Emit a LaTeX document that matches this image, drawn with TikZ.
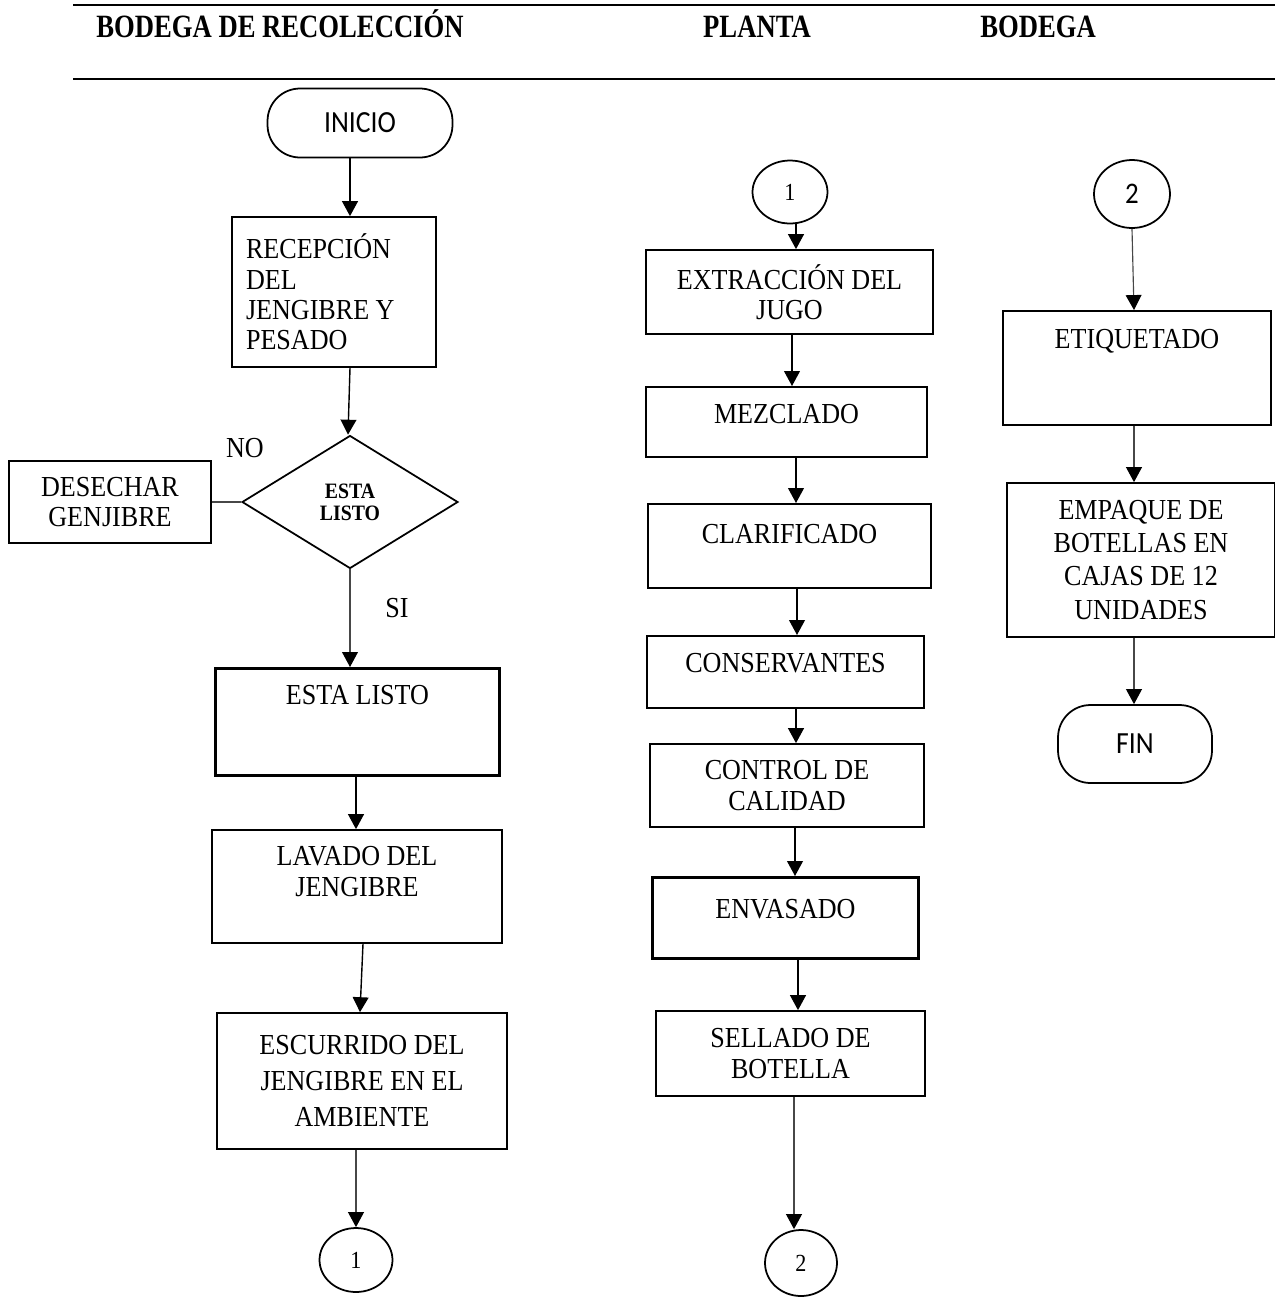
\documentclass[tikz,border=0pt]{standalone}
\usepackage{fontspec}
\setmainfont{Liberation Serif}[FakeStretch=0.9]
\newfontfamily\titulo{Liberation Serif}[FakeStretch=0.82]
\newfontfamily\calibri{Carlito}[FakeStretch=0.9]
\usetikzlibrary{arrows.meta}
\usetikzlibrary{shapes.geometric}
\usetikzlibrary{calc}
\newcommand\cuerpo{\fontsize{16.5}{17.3}\selectfont}
\tikzstyle{caja}=[draw,line width=1pt,align=center,font=\cuerpo,inner sep=0pt]
\tikzstyle{cajaalta}=[caja,anchor=north]
\tikzstyle{terminal}=[draw,line width=1pt,rounded corners=0.65cm,inner sep=0pt,font=\calibri\fontsize{17.5}{18}\selectfont]
\tikzstyle{conector}=[ellipse,draw,line width=1pt,inner sep=0pt]
\tikzstyle{decision}=[diamond,draw,line width=1pt,inner sep=0pt,align=center,font=\bfseries\fontsize{12.5}{12.5}\selectfont]
\tikzstyle{flecha}=[draw,line width=0.8pt,-{Triangle[length=8.5pt,width=9pt]}]
\tikzstyle{flechagris}=[draw=black!72,line width=0.65pt,-{Triangle[length=8.5pt,width=9pt,color=black]}]
\tikzstyle{encabezado}=[anchor=base,font=\titulo\bfseries\fontsize{18.5}{20}\selectfont]
\begin{document}
\begin{tikzpicture}[x=0.02cm,y=-0.02cm]
  \useasboundingbox (0,0) rectangle (1275,1299);

  % encabezado
  \draw[line width=1.4pt] (73,5) -- (1275,5);
  \draw[line width=1.4pt] (73,79) -- (1275,79);
  \foreach \x/\name/\label in {280/hrec/BODEGA DE RECOLECCIÓN, 757/hpla/PLANTA, 1038/hbod/BODEGA}
     \node[encabezado] (\name) at (\x,37) {\label};

  % terminales y conectores
  \node[terminal,minimum width=3.7cm,minimum height=1.38cm] (inicio) at (360,123) {INICIO};
  \node[terminal,minimum width=3.08cm,minimum height=1.56cm] (fin) at (1135,744) {FIN};
  \foreach \x/\y/\w/\h/\name/\label in {356/1260/1.46/1.28/c1a/1, 801/1263/1.44/1.32/c2a/2, 790/192/1.5/1.26/c1b/1}
     \node[conector,minimum width=\w cm,minimum height=\h cm,font=\fontsize{14}{14}\selectfont] (\name) at (\x,\y) {\label};
  \node[conector,minimum width=1.52cm,minimum height=1.36cm,font=\calibri\fontsize{17}{17}\selectfont] (c2b) at (1132,194) {2};

  % cajas
  \node[caja,align=flush left,text width=3.52cm,inner xsep=0.28cm,minimum height=3cm] (recep) at (334,292) {RECEPCIÓN\\DEL\\JENGIBRE Y\\PESADO};
  \node[decision,minimum width=4.32cm,minimum height=2.66cm] (diam) at (350,502) {ESTA\\LISTO};
  \foreach \x/\y/\w/\h/\name/\label in {110/502/4.04/1.64/desech/{DESECHAR\\GENJIBRE},
        789.5/292/5.74/1.68/extr/{EXTRACCIÓN DEL\\JUGO},
        787/785.5/5.48/1.66/control/{CONTROL DE\\CALIDAD},
        790.5/1053.5/5.38/1.7/sellado/{SELLADO DE\\BOTELLA},
        357/886.5/5.8/2.26/lavado/{LAVADO DEL\\JENGIBRE\\\mbox{}}}
     \node[caja,minimum width=\w cm,minimum height=\h cm] (\name) at (\x,\y) {\label};
  \node[caja,minimum width=5.8cm,minimum height=2.72cm,font=\fontsize{16.5}{20.5}\selectfont] (escurr) at (362,1081) {ESCURRIDO DEL\\JENGIBRE EN EL\\AMBIENTE};
  \node[caja,minimum width=5.36cm,minimum height=3.08cm,font=\fontsize{16.5}{18.8}\selectfont] (empaque) at (1141,560) {EMPAQUE DE\\BOTELLAS EN\\CAJAS DE 12\\UNIDADES};

  \foreach \x/\y/\w/\alto/\bajo/\name/\label in {786.5/386/5.62/0.74/0.66/mezcla/MEZCLADO,
        789.5/503/5.66/0.8/0.88/clarif/CLARIFICADO,
        785.5/635/5.54/0.74/0.7/conserv/CONSERVANTES,
        1137/310/5.36/0.76/1.52/etiq/ETIQUETADO}
     \node[cajaalta,minimum width=\w cm,text height=\alto cm,text depth=\bajo cm] (\name) at (\x,\y) {\label};
  \node[cajaalta,line width=1.7pt,minimum width=5.7cm,text height=0.72cm,text depth=1.42cm] (listo) at (357.5,667) {ESTA LISTO};
  \node[cajaalta,line width=1.7pt,minimum width=5.34cm,text height=0.82cm,text depth=0.8cm] (envas) at (785.5,876) {ENVASADO};

  \node[anchor=base,font=\cuerpo] (no) at (245,457) {NO};
  \node[anchor=base,font=\cuerpo] (si) at (397,617) {SI};

  % flechas
  \foreach \source/\dest/\xa/\xb in {inicio/recep/350/350, recep/diam/350/348, listo/lavado/356/356,
        lavado/escurr/363/360, c1b/extr/796/796, extr/mezcla/792/792, mezcla/clarif/796/796,
        clarif/conserv/797/797, conserv/control/796/796, control/envas/795/795, envas/sellado/798/798}
     \draw[flecha] (\xa,0 |- \source.south) -- (\xb,0 |- \dest.north);
  \foreach \source/\dest/\xa/\xb in {diam/listo/350/350, escurr/c1a/356/356, sellado/c2a/794/794,
        c2b/etiq/1132/1134, etiq/empaque/1134/1134, empaque/fin/1134/1134}
     \draw[flechagris] (\xa,0 |- \source.south) -- (\xb,0 |- \dest.north);
  \draw[draw=black!72,line width=0.65pt] (desech.east) -- (diam.west);
\end{tikzpicture}
\end{document}
